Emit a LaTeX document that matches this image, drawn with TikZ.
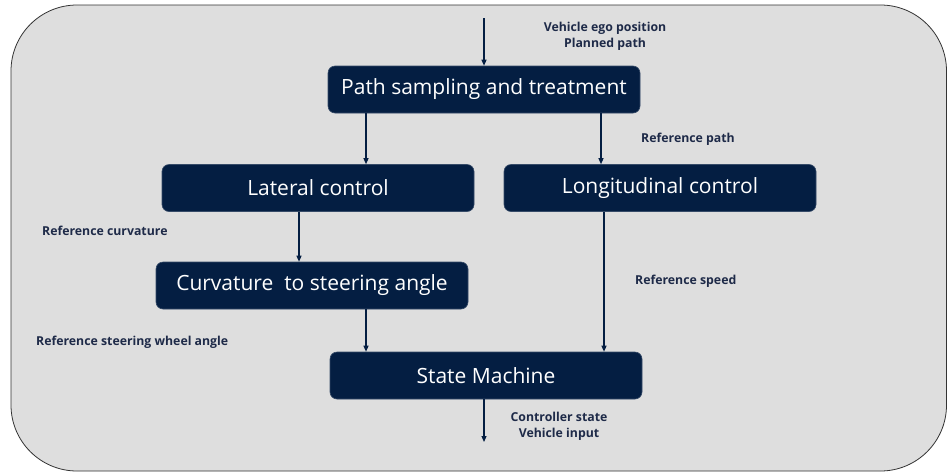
\documentclass[tikz,border=0pt]{standalone}
\usepackage{fontspec}
\setmainfont{Open Sans}
\usetikzlibrary{arrows.meta}
\definecolor{navy}{HTML}{041E42}
\definecolor{lbl}{HTML}{1E2A48}
\definecolor{panel}{HTML}{DEDEDE}
\tikzset{
  blk/.style={draw=navy!80!white, line width=0.6pt, fill=navy, rounded corners=7pt, text=white,
    minimum width=312pt, minimum height=47pt, inner sep=0pt, font=\fontsize{21}{24}\selectfont},
  conn/.style={draw=navy, line width=1.2pt, -{Triangle[length=6pt,width=5pt]}},
  lab/.style={text=lbl, font=\bfseries\fontsize{12.3}{16}\selectfont, inner sep=0pt, align=center}
}
\begin{document}
\begin{tikzpicture}[x=1pt,y=-1pt]
\useasboundingbox (0,0) rectangle (947,472);
\fill[white] (0,0) rectangle (947,472);
\draw[fill=panel, draw=black!80, line width=0.8pt, rounded corners=66pt] (11,5) rectangle (946.5,471);
\node[blk] (ps) at (484,89.5) {Path sampling and treatment};
\node[blk] (lat) at (318,188) {Lateral control};
\node[blk] (lon) at (660,188) {Longitudinal control};
\node[blk] (cur) at (312,285.5) {Curvature\ \ to steering\ angle};
\node[blk] (sm) at (486,375.5) {State Machine};
\coordinate (in) at (484,18);
\coordinate (out) at (484,442);
\draw[conn] (in) -- (ps.north -| in);
\draw[conn] (ps.south -| 366,0) -- (lat.north -| 366,0);
\draw[conn] (ps.south -| 601,0) -- (lon.north -| 601,0);
\draw[conn] (lat.south -| 299,0) -- (cur.north -| 299,0);
\draw[conn] (cur.south -| 366,0) -- (sm.north -| 366,0);
\draw[conn] (lon.south -| 604,0) -- (sm.north -| 604,0);
\draw[conn] (sm.south -| out) -- (out);
\node[lab] (l1) at (605,36) {Vehicle ego position\\Planned path};
\node[lab] (l2) at (688,139) {Reference path};
\node[lab, anchor=west] (l3) at (42,231) {Reference curvature};
\node[lab, anchor=west] (l4) at (635,281) {Reference speed};
\node[lab, anchor=west] (l5) at (36,342) {Reference steering wheel angle};
\node[lab] (l6) at (559,426) {Controller state\\Vehicle input};
\end{tikzpicture}
\end{document}
